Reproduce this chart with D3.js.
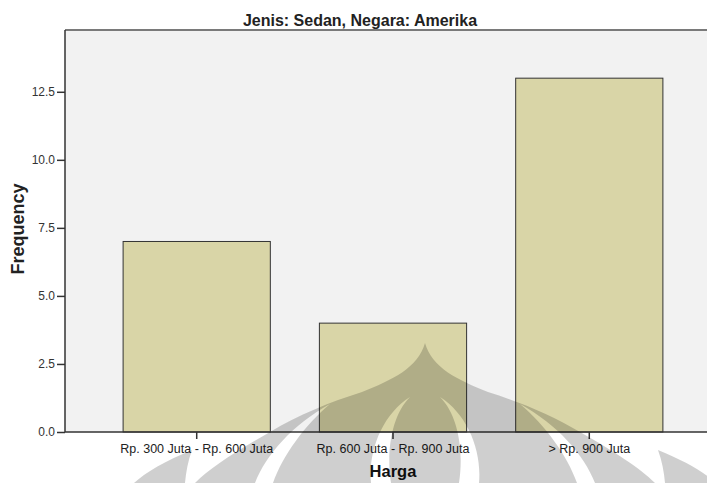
<!DOCTYPE html>
<html>
<head>
<meta charset="utf-8">
<script src="https://cdn.jsdelivr.net/npm/d3@7"></script>
<style>
  html, body { margin: 0; padding: 0; background: #ffffff; }
  svg { display: block; font-family: "Liberation Sans", Arial, Helvetica, sans-serif; }
</style>
</head>
<body>
<svg id="chart" width="707" height="483"></svg>
<script>
// ---- data ----
const categories = ["Rp. 300 Juta - Rp. 600 Juta", "Rp. 600 Juta - Rp. 900 Juta", "> Rp. 900 Juta"];
const frequencies = [7, 4, 13];
const yTicks = [0, 2.5, 5, 7.5, 10, 12.5];
const chartTitle = "Jenis: Sedan, Negara: Amerika";
const xTitle = "Harga";
const yTitle = "Frequency";

// ---- layout ----
const svg = d3.select("#chart");
const plot = { left: 65, top: 30, right: 707, bottom: 432 };

const x = d3.scaleBand()
  .domain(categories)
  .range([plot.left, 721])
  .paddingInner(0.25)
  .paddingOuter(0.296);

const y = d3.scaleLinear()
  .domain([0, 14.77])
  .range([plot.bottom, plot.top]);

// plot background
svg.append("rect")
  .attr("x", plot.left).attr("y", plot.top)
  .attr("width", plot.right - plot.left).attr("height", plot.bottom - plot.top)
  .attr("fill", "#f2f2f2");

// top frame line
svg.append("line")
  .attr("x1", plot.left).attr("x2", plot.right)
  .attr("y1", plot.top).attr("y2", plot.top)
  .attr("stroke", "#7a7a7a").attr("stroke-width", 2);

// bars
svg.append("g").selectAll("rect")
  .data(categories.map((c, i) => ({ c, v: frequencies[i] })))
  .join("rect")
  .attr("x", d => x(d.c))
  .attr("y", d => y(d.v))
  .attr("width", x.bandwidth())
  .attr("height", d => y(0) - y(d.v))
  .attr("fill", "#d9d5a7")
  .attr("stroke", "#333333")
  .attr("stroke-width", 1);

// y axis
const yAxis = svg.append("g")
  .attr("transform", `translate(${plot.left},0)`)
  .call(d3.axisLeft(y).tickValues(yTicks).tickFormat(d3.format(".1f")).tickSize(8).tickPadding(2));
yAxis.select(".domain").attr("stroke", "#333").attr("stroke-width", 1.5)
  .attr("d", `M0,${plot.top}V${plot.bottom}`);
yAxis.selectAll(".tick line").attr("stroke", "#333").attr("stroke-width", 1.5);
yAxis.selectAll(".tick text").attr("fill", "#333").attr("font-size", "12px")
  .attr("font-family", "Liberation Sans, Arial, sans-serif");

// x axis
const xAxis = svg.append("g")
  .attr("transform", `translate(0,${plot.bottom})`)
  .call(d3.axisBottom(x).tickSize(7).tickPadding(5));
xAxis.select(".domain").attr("stroke", "#333").attr("stroke-width", 1.5)
  .attr("d", `M${plot.left},0H${plot.right}`);
xAxis.selectAll(".tick line").attr("stroke", "#333").attr("stroke-width", 1.5);
xAxis.selectAll(".tick text").attr("fill", "#222").attr("font-size", "12.5px")
  .attr("font-family", "Liberation Sans, Arial, sans-serif");

// titles
svg.append("text")
  .attr("x", 360).attr("y", 26)
  .attr("text-anchor", "middle")
  .attr("font-weight", "bold").attr("font-size", "16px").attr("fill", "#222")
  .text(chartTitle);

svg.append("text")
  .attr("x", x(categories[1]) + x.bandwidth() / 2).attr("y", 477)
  .attr("text-anchor", "middle")
  .attr("font-weight", "bold").attr("font-size", "16.5px").attr("fill", "#111")
  .text(xTitle);

svg.append("text")
  .attr("transform", "translate(24,229) rotate(-90)")
  .attr("text-anchor", "middle")
  .attr("font-weight", "bold").attr("font-size", "18px").attr("fill", "#222")
  .text(yTitle);

// faint watermark (logo) overlay
const wm = svg.append("g").attr("fill", "#000").attr("fill-opacity", 0.19).attr("pointer-events", "none");
wm.append("path").attr("fill-rule", "evenodd").attr("d",
  // main dome + wings
  "M425,343 C418,368 392,380 362,392 C330,402 298,415 270,432 C235,452 210,468 195,483 " +
  "L655,483 C640,468 615,452 580,432 C552,415 520,402 488,392 C458,380 432,368 425,343 Z " +
  // left outer strip
  "M330,404 C305,425 283,455 273,483 L255,483 C266,455 292,425 330,404 Z " +
  // right outer strip
  "M520,404 C545,425 567,455 577,483 L595,483 C584,455 558,425 520,404 Z " +
  // left inner crescent
  "M410,397 C392,415 386,450 391,483 L371,483 C368,450 383,414 410,397 Z " +
  // right inner crescent
  "M440,397 C458,415 464,450 459,483 L479,483 C482,450 467,414 440,397 Z");
// outer rings
wm.append("path").attr("d",
  "M192,450 C165,461 146,472 134,483 L185,483 C186,472 188,461 192,450 Z");
wm.append("path").attr("d",
  "M658,450 C685,461 704,472 716,483 L665,483 C664,472 662,461 658,450 Z");
</script>
</body>
</html>
